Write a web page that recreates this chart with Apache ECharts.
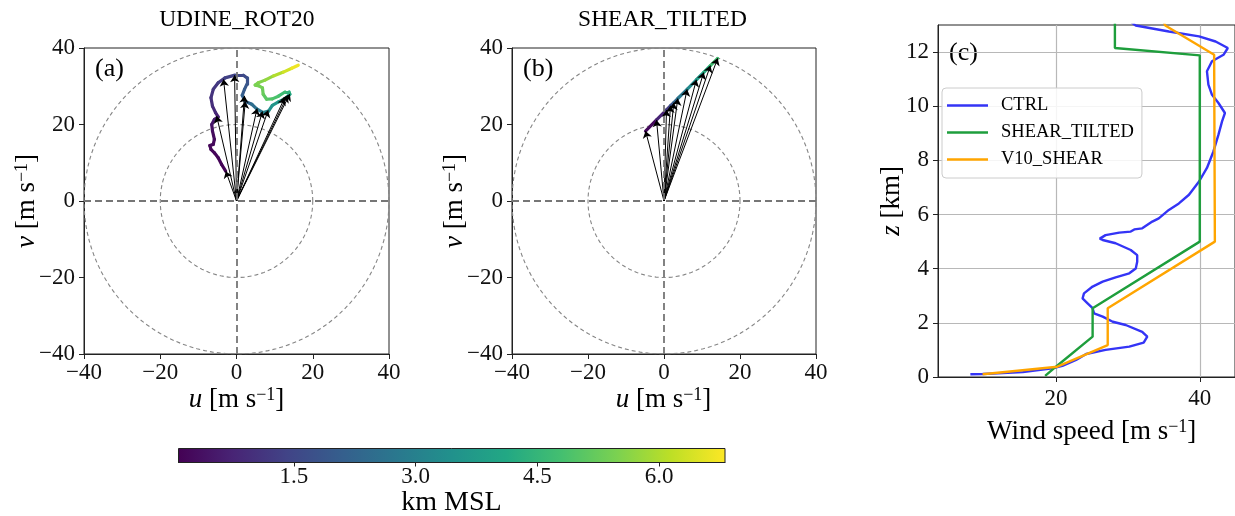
<!DOCTYPE html>
<html>
<head>
<meta charset="utf-8">
<script src="https://cdn.jsdelivr.net/npm/echarts@6/dist/echarts.min.js"></script>
<style>
html,body{margin:0;padding:0;background:#fff}
#chart{width:1235px;height:516px}
</style>
</head>
<body>
<div id="chart"></div>
<script>
// ---- data ----
// hodograph (a): [u, v, height km]
const hodoA = [
  [-2.84,7.81,0.08],[-3.9,9.55,0.12],[-4.8,11.3,0.15],[-5.8,12.6,0.17],[-6.7,13.5,0.18],
  [-7.0,14.5,0.2],[-6.1,14.8,0.21],[-5.8,16.1,0.24],[-6.3,18.3,0.3],[-6.5,20.0,0.42],
  [-5.8,21.3,0.55],[-4.8,22.0,0.6],[-5.5,23.1,0.78],[-6.3,24.8,0.93],[-6.7,27.0,1.04],
  [-6.1,29.2,1.1],[-4.8,30.9,1.2],[-3.0,32.2,1.3],[-0.4,32.9,1.45],[1.8,32.9,1.55],
  [2.7,32.2,1.65],[2.7,30.5,1.85],[2.1,29.2,1.95],[1.5,27.6,2.07],[2.2,26.1,2.25],
  [4.0,25.3,2.35],[5.3,24.1,2.65],[7.0,23.1,2.85],[8.4,23.5,3.3],[9.4,25.0,3.52],
  [11.0,25.9,3.67],[12.6,26.7,3.78],[14.0,27.9,4.0],[13.8,28.5,4.3],[12.7,28.5,4.55],
  [11.0,27.4,4.8],[9.4,26.7,4.94],[7.9,26.6,5.0],[7.0,27.9,5.15],[6.8,29.6,5.35],
  [5.9,30.1,5.4],[4.9,30.3,5.43],[5.7,30.9,5.47],[7.5,31.6,5.6],[9.7,32.7,5.85],
  [12.3,33.7,6.2],[14.5,34.7,6.5],[16.2,35.5,6.81]
];
// arrow tips (a): [u, v]
const arrowsA = [
  [-2.8,7.8],[-5.2,22.2],[-3.4,31.8],[-0.5,32.9],[2.1,27.5],[2.3,26.0],
  [5.4,24.2],[6.8,23.4],[8.3,23.7],[12.6,26.9],[13.4,27.6],[14.0,28.0]
];
// hodograph (b): [u, v, height km]
const hodoB = [
  [-4.86,18.3,0.0],[-1.97,21.2,0.5],[0.66,23.8,1.0],[1.71,24.9,1.5],[2.58,25.7,2.0],
  [3.63,26.8,2.5],[6.08,29.2,3.0],[8.53,31.7,3.5],[10.45,33.6,4.0],[12.2,35.4,4.5],
  [14.13,37.3,5.0]
];
const rings = [20, 40];
const hodoTicks = [-40, -20, 0, 20, 40];

// wind speed profiles: [speed m/s, z km]
const ctrl = [
  [8.1,0.10],[9.8,0.11],[15.4,0.18],[19.5,0.32],[20.9,0.41],[22.8,0.63],[24.2,0.85],
  [26.9,1.0],[30.2,1.12],[32.2,1.27],[32.7,1.49],[32.0,1.67],[29.7,1.92],[27.9,2.04],
  [26.5,2.23],[25.3,2.35],[25.1,2.54],[24.4,2.72],[23.7,2.9],[23.9,3.09],[25.1,3.34],
  [26.5,3.52],[28.3,3.68],[30.2,3.83],[31.1,4.01],[31.3,4.26],[31.3,4.5],[30.4,4.69],
  [28.3,4.94],[26.5,5.06],[26.1,5.11],[26.9,5.24],[28.8,5.33],[30.4,5.37],[30.9,5.45],
  [32.0,5.49],[33.4,5.74],[34.3,5.86],[35.7,6.17],[37.1,6.41],[38.5,6.73],[39.9,7.22],
  [41.0,7.72],[41.9,8.33],[42.6,8.95],[43.1,9.44],[43.5,9.75],[42.6,10.12],[41.7,10.42],
  [41.2,10.8],[41.0,11.29],[41.7,11.66],[43.3,11.9],[43.9,12.15],[42.2,12.39],[39.9,12.58],
  [35.7,12.76],[31.1,12.98],[30.5,13.1]
];
const shearTilted = [
  [18.5,0.04],[20.0,0.38],[25.1,1.49],[25.1,2.54],[40.0,5.0],[40.0,11.88],[28.2,12.15],[28.2,13.1]
];
const v10Shear = [
  [9.8,0.1],[20.2,0.38],[27.2,1.18],[27.2,2.54],[42.1,5.0],[42.0,11.9],[35.2,12.98],[35.0,13.1]
];
const speedTicks = [20, 40];
const zTicks = [0, 2, 4, 6, 8, 10, 12];

// colorbar
const cbMin = 0.08, cbMax = 6.81;
const cbTicks = [1.5, 3.0, 4.5, 6.0];

// ---- styling helpers ----
const SERIF = 'Liberation Serif';
const VIRIDIS = ['#440154','#482475','#414487','#355f8d','#2a788e','#21918c',
                 '#22a884','#44bf70','#7ad151','#bddf26','#fde725'];
function hex2rgb(h){ return [1,3,5].map(i => parseInt(h.substr(i,2),16)); }
function viridis(t){
  t = Math.max(0, Math.min(1, t));
  const p = t * (VIRIDIS.length - 1), i = Math.min(Math.floor(p), VIRIDIS.length - 2), f = p - i;
  const a = hex2rgb(VIRIDIS[i]), b = hex2rgb(VIRIDIS[i+1]);
  return 'rgb(' + a.map((c,k) => Math.round(c + (b[k]-c)*f)).join(',') + ')';
}
const minus = v => String(v).replace('-', '\u2212');

function segs(path){
  const out = [];
  for (let i = 0; i < path.length - 1; i++){
    const zm = (path[i][2] + path[i+1][2]) / 2;
    out.push({ coords: [[path[i][0], path[i][1]], [path[i+1][0], path[i+1][1]]],
               lineStyle: { color: viridis((zm - cbMin) / (cbMax - cbMin)) } });
  }
  return out;
}
function ringData(r){
  const pts = [];
  for (let a = 0; a <= 360; a += 3) pts.push([r*Math.cos(a*Math.PI/180), r*Math.sin(a*Math.PI/180)]);
  return pts;
}

const axisCol = '#222';
function hodoAxis(gi, isX){
  return {
    gridIndex: gi, type: 'value', min: -40, max: 40, interval: 20,
    axisLine: { show: true, onZero: false, lineStyle: { color: axisCol, width: 1 } },
    axisTick: { show: true, length: 5, lineStyle: { color: axisCol } },
    axisLabel: { fontFamily: SERIF, fontSize: 23, color: '#111', margin: isX ? 7 : 9, formatter: minus },
    splitLine: { show: false }
  };
}

const series = [];
[0, 1].forEach(gi => {
  rings.forEach((r, k) => {
    const s = {
      type: 'line', xAxisIndex: gi, yAxisIndex: gi, data: ringData(r), symbol: 'none',
      silent: true, lineStyle: { color: '#858585', width: 1.1, type: [4, 3] }, z: 1
    };
    if (k === 0) s.markLine = {
      silent: true, symbol: ['none','none'], label: { show: false },
      lineStyle: { color: '#767676', width: 1.8, type: [7, 4] },
      data: [{ xAxis: 0 }, { yAxis: 0 }]
    };
    series.push(s);
  });
});
[[hodoA, arrowsA, 0], [hodoB, hodoB.map(p => [p[0], p[1]]), 1]].forEach(([path, tips, gi]) => {
  series.push({
    type: 'lines', coordinateSystem: 'cartesian2d', xAxisIndex: gi, yAxisIndex: gi,
    polyline: false, silent: true, z: 3,
    lineStyle: { width: 3.2, cap: 'round', opacity: 1 },
    data: segs(path)
  });
  series.push({
    type: 'lines', coordinateSystem: 'cartesian2d', xAxisIndex: gi, yAxisIndex: gi,
    silent: true, z: 4, symbol: ['none', 'arrow'], symbolSize: 7,
    lineStyle: { color: '#000', width: 1, opacity: 1 },
    data: tips.map(t => ({ coords: [[0, 0], [t[0], t[1]]] }))
  });
});
const profiles = [['CTRL', ctrl, '#3434f6'], ['SHEAR_TILTED', shearTilted, '#1e9e3c'], ['V10_SHEAR', v10Shear, '#ffa500']];
profiles.forEach(([name, d, col]) => series.push({
    name, type: 'line', xAxisIndex: 2, yAxisIndex: 2, data: d, symbol: 'none',
    lineStyle: { color: col, width: 2.4 }, itemStyle: { color: col }, z: 3
  }));
series.push({ type: 'line', xAxisIndex: 3, yAxisIndex: 3, data: [], symbol: 'none' });

const cbStops = VIRIDIS.map((c, i) => ({ offset: i / (VIRIDIS.length - 1), color: c }));

function txt(x, y, text, size, extra){
  return Object.assign({
    type: 'text', x, y, silent: true,
    style: Object.assign({ text, fontFamily: SERIF, fontSize: size, fill: '#000',
                           align: 'center', verticalAlign: 'middle' }, (extra && extra.style) || {})
  }, extra && extra.el || {});
}
const unitRich = size => ({
  i: { fontStyle: 'italic', fontSize: size, fontFamily: SERIF, fill: '#000' },
  s: { fontSize: Math.round(size * 0.68), fontFamily: SERIF, verticalAlign: 'top', fill: '#000' }
});

const chart = echarts.init(document.getElementById('chart'), null, { renderer: 'canvas' });
chart.setOption({
  animation: false,
  backgroundColor: '#fff',
  textStyle: { fontFamily: SERIF },
  grid: [
    { left: 84, top: 48, width: 305, height: 306, show: true, borderColor: axisCol, borderWidth: 1, backgroundColor: 'transparent' },
    { left: 512, top: 48, width: 304, height: 306, show: true, borderColor: axisCol, borderWidth: 1, backgroundColor: 'transparent' },
    { left: 938, top: 25, width: 298, height: 352, show: true, borderColor: axisCol, borderWidth: 1, backgroundColor: 'transparent' },
    { left: 178.5, top: 448.5, width: 546.5, height: 14, show: true, borderColor: axisCol, borderWidth: 1,
      backgroundColor: new echarts.graphic.LinearGradient(0, 0, 1, 0, cbStops) }
  ],
  xAxis: [
    hodoAxis(0, true), hodoAxis(1, true),
    { gridIndex: 2, type: 'value', min: 3.6, max: 44.9,
      axisLine: { show: true, onZero: false, lineStyle: { color: axisCol } },
      axisTick: { show: true, length: 5, customValues: speedTicks, lineStyle: { color: axisCol } },
      axisLabel: { fontFamily: SERIF, fontSize: 23, color: '#111', margin: 10, customValues: speedTicks },
      splitLine: { show: true, lineStyle: { color: '#b8b8b8', width: 1.2 } } },
    { gridIndex: 3, type: 'value', min: cbMin, max: cbMax,
      axisLine: { show: true, onZero: false, lineStyle: { color: axisCol } },
      axisTick: { show: true, length: 4, customValues: cbTicks, lineStyle: { color: axisCol } },
      axisLabel: { fontFamily: SERIF, fontSize: 23, color: '#111', margin: 3, customValues: cbTicks,
                   formatter: v => v.toFixed(1) },
      splitLine: { show: false } }
  ],
  yAxis: [
    hodoAxis(0, false), hodoAxis(1, false),
    { gridIndex: 2, type: 'value', min: 0, max: 13,
      axisLine: { show: true, onZero: false, lineStyle: { color: axisCol } },
      axisTick: { show: true, length: 5, customValues: zTicks, lineStyle: { color: axisCol } },
      axisLabel: { fontFamily: SERIF, fontSize: 23, color: '#111', margin: 9, customValues: zTicks },
      splitLine: { show: true, lineStyle: { color: '#b8b8b8', width: 1.2 } } },
    { gridIndex: 3, type: 'value', min: 0, max: 1, show: false }
  ],
  legend: {
    data: profiles.map(p => ({ name: p[0], icon: 'rect' })),
    orient: 'vertical', left: 942, top: 88,
    itemWidth: 41, itemHeight: 2.6, itemGap: 6,
    padding: [7, 8, 8, 5],
    backgroundColor: 'rgba(255,255,255,0.85)', borderColor: '#cccccc', borderWidth: 1, borderRadius: 4,
    textStyle: { fontFamily: SERIF, fontSize: 18.5, color: '#000', padding: [0, 0, 0, 8], lineHeight: 21 }
  },
  graphic: [
    txt(236.8, 20, 'UDINE_ROT20', 23.5),
    txt(662.5, 20, 'SHEAR_TILTED', 23.5),
    txt(95, 69, '(a)', 26, { style: { align: 'left' } }),
    txt(523, 69, '(b)', 26, { style: { align: 'left' } }),
    txt(949, 53, '(c)', 26, { style: { align: 'left' } }),
    txt(236.5, 400, '{i|u} [m s{s|\u22121}]', 27, { style: { rich: unitRich(27) } }),
    txt(663.5, 400, '{i|u} [m s{s|\u22121}]', 27, { style: { rich: unitRich(27) } }),
    txt(27, 201, '{i|v} [m s{s|\u22121}]', 27, { style: { rich: unitRich(27) }, el: { rotation: Math.PI / 2 } }),
    txt(455, 201, '{i|v} [m s{s|\u22121}]', 27, { style: { rich: unitRich(27) }, el: { rotation: Math.PI / 2 } }),
    txt(892, 201, '{i|z} [km]', 27, { style: { rich: unitRich(27) }, el: { rotation: Math.PI / 2 } }),
    txt(1091.7, 432, 'Wind speed [m s{s|\u22121}]', 27, { style: { rich: unitRich(27) } }),
    txt(451.5, 503, 'km MSL', 28)
  ],
  series
});
</script>
</body>
</html>
